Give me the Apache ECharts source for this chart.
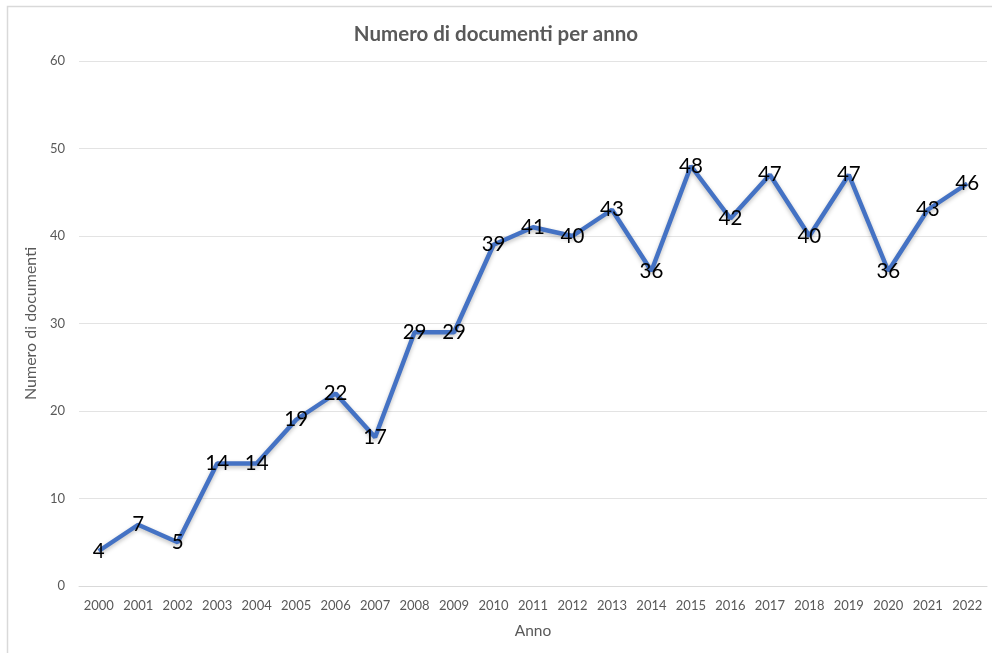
<!DOCTYPE html>
<html><head><meta charset="utf-8">
<script src="https://cdn.jsdelivr.net/npm/echarts@6/dist/echarts.min.js"></script>
<style>html,body{margin:0;padding:0;background:#fff}#c{width:992px;height:653px}</style>
</head><body><div id="c"></div>
<script>
const years = ['2000','2001','2002','2003','2004','2005','2006','2007','2008','2009','2010','2011','2012','2013','2014','2015','2016','2017','2018','2019','2020','2021','2022'];
const docs = [4,7,5,14,14,19,22,17,29,29,39,41,40,43,36,48,42,47,40,47,36,43,46];
const yTicks = {min:0, max:60, interval:10};
const FONT = 'Lato, "Open Sans", sans-serif';
const chart = echarts.init(document.getElementById('c'));
chart.setOption({
  animation:false,
  backgroundColor:'#fff',
  graphic:[{type:'rect',shape:{x:7.5,y:6.5,width:1000,height:700},style:{fill:'none',stroke:'#d9d9d9',lineWidth:1.5},silent:true}],
  title:{text:'Numero di documenti per anno',left:'center',top:19,textStyle:{fontFamily:FONT,fontSize:20.5,fontWeight:'bold',color:'#595959'}},
  grid:{left:79,right:5,top:61,bottom:67},
  xAxis:{type:'category',data:years,boundaryGap:true,
    name:'Anno',nameLocation:'middle',nameGap:37,nameTextStyle:{fontFamily:FONT,fontSize:15.5,color:'#595959'},
    axisLine:{show:true,lineStyle:{color:'#d9d9d9',width:1}},axisTick:{show:false},
    axisLabel:{fontFamily:FONT,fontSize:13,color:'#595959',margin:13,interval:0}},
  yAxis:{type:'value',min:yTicks.min,max:yTicks.max,interval:yTicks.interval,
    name:'Numero di documenti',nameLocation:'middle',nameGap:32,nameTextStyle:{fontFamily:FONT,fontSize:16,color:'#595959'},
    axisLine:{show:false},axisTick:{show:false},
    axisLabel:{fontFamily:FONT,fontSize:13,color:'#595959',margin:14},
    splitLine:{lineStyle:{color:'#e3e3e3',width:1}}},
  series:[{type:'line',data:docs,symbol:'circle',symbolSize:2,showSymbol:true,
    itemStyle:{color:'rgba(0,0,0,0)',borderWidth:0},
    lineStyle:{color:'#4472C4',width:4.5,shadowColor:'rgba(0,0,0,0.25)',shadowBlur:4,shadowOffsetY:2},
    label:{show:true,position:'inside',fontFamily:FONT,fontSize:20.5,color:'#000'},
    labelLayout:{hideOverlap:false}}]
});
</script></body></html>
